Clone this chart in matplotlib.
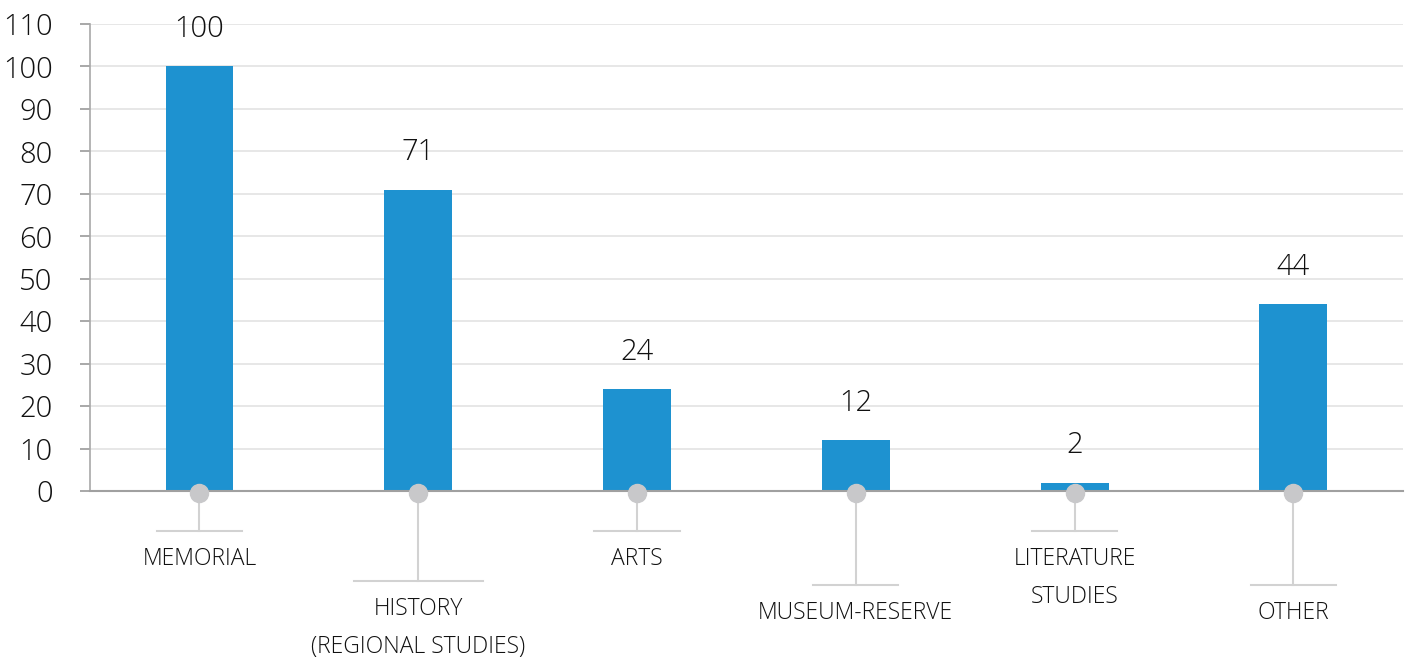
import numpy as np
import matplotlib.pyplot as plt

categories = ["MEMORIAL", "HISTORY\n(REGIONAL STUDIES)", "ARTS", "MUSEUM-RESERVE",
              "LITERATURE\nSTUDIES", "OTHER"]
values = [100, 71, 24, 12, 2, 44]

# label layout below the axis (data units)
line_y = [-9.4, -21.2, -9.4, -22.1, -9.4, -22.1]
line_w = [0.39, 0.59, 0.39, 0.39, 0.39, 0.39]

plt.rcParams['font.family'] = ['Open Sans', 'DejaVu Sans']
plt.rcParams['font.weight'] = 'light'

fig = plt.figure(figsize=(14.07, 6.58), dpi=100)
ax = fig.add_axes([0.064, 0.2538, 0.933, 0.7097])

x = np.arange(len(values))
ax.bar(x, values, width=0.31, color='#1E92D0', zorder=3)
ax.set_xlim(-0.5, 5.5)
ax.set_ylim(0, 110)
ax.set_yticks(np.arange(0, 111, 10))
ax.tick_params(axis='y', labelsize=21, colors='#9A9A9A', labelcolor='#111111',
               length=7, width=1.2, pad=20)
ax.set_xticks([])
ax.grid(axis='y', color='#E3E3E3', linewidth=1.2, zorder=0)
for s in ['top', 'right']:
    ax.spines[s].set_visible(False)
ax.spines['left'].set_color('#A8A8A8')
ax.spines['bottom'].set_color('#A0A0A0')
ax.spines['left'].set_linewidth(1.2)
ax.spines['bottom'].set_linewidth(1.5)
ax.spines['bottom'].set_zorder(4)

for i, v in enumerate(values):
    ax.annotate(str(v), (x[i], v), xytext=(0, 16), textcoords='offset points',
                ha='center', va='bottom', fontsize=21, color='#111111')
    # stem and horizontal bar under the label
    ax.plot([x[i], x[i]], [-0.5, line_y[i]], color='#D2D2D2', lw=1.5,
            clip_on=False, zorder=2)
    ax.plot([x[i] - line_w[i] / 2, x[i] + line_w[i] / 2], [line_y[i], line_y[i]],
            color='#D2D2D2', lw=1.5, clip_on=False, zorder=2)
    ax.plot(x[i], -0.45, 'o', ms=13, color='#C8C8CA', clip_on=False, zorder=5)
    ax.text(x[i], line_y[i] - 3.7, categories[i], ha='center', va='top',
            fontsize=16.5, color='#111111', linespacing=1.8)

fig.savefig('out.png', dpi=100)
